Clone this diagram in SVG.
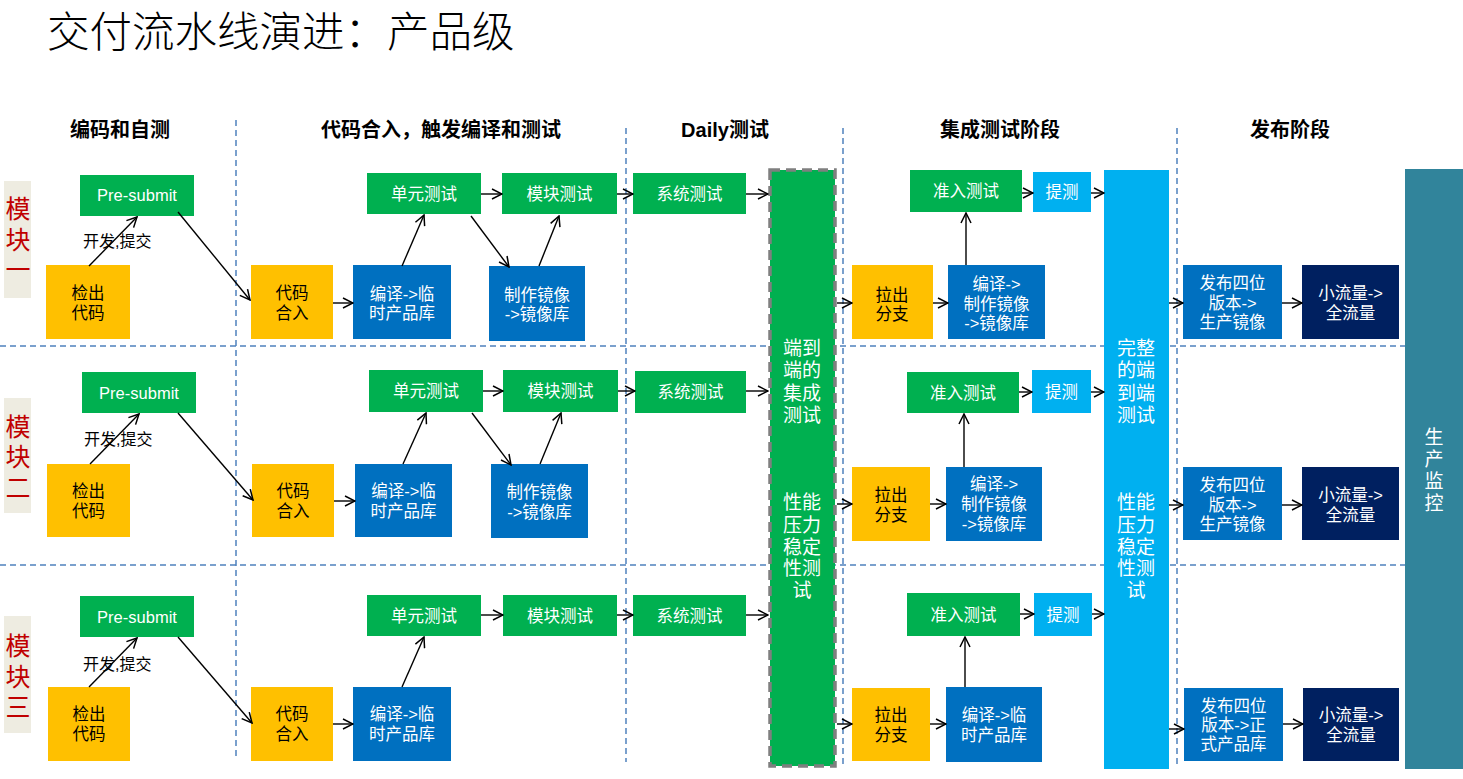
<svg xmlns="http://www.w3.org/2000/svg" width="1463" height="779" viewBox="0 0 1463 779">
<defs>
<marker id="ah" markerUnits="userSpaceOnUse" viewBox="0 0 12 12" markerWidth="12" markerHeight="12" refX="11" refY="6" orient="auto">
<path d="M1,1 L11,6 L1,11" fill="none" stroke="#000" stroke-width="1.5"/>
</marker>
<style>
text{font-family:"Liberation Sans","Noto Sans CJK SC",sans-serif}
.t{font-size:16.5px;text-anchor:middle}
.w{fill:#fff}
.k{fill:#000}
.h{font-size:20px;font-weight:700;text-anchor:middle;fill:#000}
.col{font-size:19px;text-anchor:middle;fill:#fff}
.side{font-size:25px;text-anchor:middle;fill:#C00000}
.g{fill:#00B050}
.o{fill:#FFC000}
.b{fill:#0070C0}
.lb{fill:#00B0F0}
.n{fill:#002060}
.grid{stroke:#4F81BD;stroke-width:1.5;stroke-dasharray:6,4;fill:none}
.c line{stroke:#000;stroke-width:1.4;marker-end:url(#ah)}
</style>
</defs>
<rect width="1463" height="779" fill="#fff"/>
<text x="47" y="47" font-size="42.5" font-weight="300" fill="#000" style="font-family:'Noto Sans CJK SC',sans-serif">交付流水线演进：产品级</text>

<g id="grid">
<line class="grid" x1="236" y1="120" x2="236" y2="760"/>
<line class="grid" x1="626" y1="128" x2="626" y2="762"/>
<line class="grid" x1="843" y1="128" x2="843" y2="766"/>
<line class="grid" x1="1177" y1="128" x2="1177" y2="766"/>
<line class="grid" x1="0" y1="346" x2="1463" y2="346"/>
<line class="grid" x1="0" y1="565" x2="1463" y2="565"/>
</g>

<g id="headers">
<text class="h" x="120" y="137">编码和自测</text>
<text class="h" x="441" y="137">代码合入，触发编译和测试</text>
<text class="h" x="725" y="137">Daily测试</text>
<text class="h" x="1000" y="137">集成测试阶段</text>
<text class="h" x="1290" y="137">发布阶段</text>
</g>

<g id="side1"><rect x="4" y="181" width="27" height="117" fill="#EEECE1"/><text class="side"><tspan x="18" y="218">模</tspan><tspan x="18" y="249">块</tspan><tspan x="18" y="279">一</tspan></text></g>
<g id="side2"><rect x="4" y="398" width="27" height="115" fill="#EEECE1"/><text class="side"><tspan x="18" y="436">模</tspan><tspan x="18" y="466">块</tspan><tspan x="18" y="497">二</tspan></text></g>
<g id="side3"><rect x="4" y="616" width="27" height="117" fill="#EEECE1"/><text class="side"><tspan x="18" y="655">模</tspan><tspan x="18" y="686">块</tspan><tspan x="18" y="716">三</tspan></text></g>

<g id="e2e">
<rect x="770" y="170" width="65" height="596" fill="#00B050" stroke="#7F7F7F" stroke-width="3.5" stroke-dasharray="10,6"/>
<text class="col"><tspan x="802" y="355">端到</tspan><tspan x="802" y="377">端的</tspan><tspan x="802" y="400">集成</tspan><tspan x="802" y="422">测试</tspan></text>
<text class="col"><tspan x="802" y="509">性能</tspan><tspan x="802" y="532">压力</tspan><tspan x="802" y="554">稳定</tspan><tspan x="802" y="575">性测</tspan><tspan x="802" y="597">试</tspan></text>
</g>
<g id="full-e2e">
<rect x="1104" y="170" width="65" height="599" fill="#00B0F0"/>
<text class="col"><tspan x="1136" y="355">完整</tspan><tspan x="1136" y="377">的端</tspan><tspan x="1136" y="400">到端</tspan><tspan x="1136" y="422">测试</tspan></text>
<text class="col"><tspan x="1136" y="509">性能</tspan><tspan x="1136" y="532">压力</tspan><tspan x="1136" y="554">稳定</tspan><tspan x="1136" y="575">性测</tspan><tspan x="1136" y="597">试</tspan></text>
</g>
<g id="monitor">
<rect x="1405" y="169" width="58" height="600" fill="#31849B"/>
<text class="col"><tspan x="1434" y="444">生</tspan><tspan x="1434" y="466">产</tspan><tspan x="1434" y="488">监</tspan><tspan x="1434" y="510">控</tspan></text>
</g>

<!-- Row 1 -->
<g id="r1-presubmit"><rect class="g" x="80" y="175" width="114" height="41"/><text class="t w" x="137" y="201">Pre-submit</text></g>
<g id="r1-checkout"><rect class="o" x="46" y="265" width="84" height="74"/><text class="t k"><tspan x="88" y="299">检出</tspan><tspan x="88" y="319">代码</tspan></text></g>
<g id="r1-merge"><rect class="o" x="251" y="265" width="82" height="74"/><text class="t k"><tspan x="292" y="299">代码</tspan><tspan x="292" y="319">合入</tspan></text></g>
<g id="r1-build"><rect class="b" x="353" y="265" width="98" height="74"/><text class="t w"><tspan x="402" y="300">编译-&gt;临</tspan><tspan x="402" y="319">时产品库</tspan></text></g>
<g id="r1-image"><rect class="b" x="489" y="266" width="96" height="75"/><text class="t w"><tspan x="537" y="301">制作镜像</tspan><tspan x="537" y="320">-&gt;镜像库</tspan></text></g>
<g id="r1-unit"><rect class="g" x="367" y="173" width="114" height="41"/><text class="t w" x="424" y="200">单元测试</text></g>
<g id="r1-module"><rect class="g" x="502" y="173" width="115" height="41"/><text class="t w" x="559.5" y="200">模块测试</text></g>
<g id="r1-system"><rect class="g" x="633" y="173" width="113" height="41"/><text class="t w" x="689.5" y="200">系统测试</text></g>
<g id="r1-branch"><rect class="o" x="852" y="265" width="81" height="74"/><text class="t k"><tspan x="892" y="301">拉出</tspan><tspan x="892" y="320">分支</tspan></text></g>
<g id="r1-build2"><rect class="b" x="948" y="265" width="97" height="74"/><text class="t w"><tspan x="996.5" y="290">编译-&gt;</tspan><tspan x="996.5" y="310">制作镜像</tspan><tspan x="996.5" y="329">-&gt;镜像库</tspan></text></g>
<g id="r1-admit"><rect class="g" x="910" y="170" width="112" height="42"/><text class="t w" x="966" y="197">准入测试</text></g>
<g id="r1-submit"><rect class="lb" x="1033" y="172" width="58" height="40"/><text class="t w" x="1062" y="198">提测</text></g>
<g id="r1-release"><rect class="b" x="1183" y="265" width="99" height="74"/><text class="t w"><tspan x="1232.5" y="289">发布四位</tspan><tspan x="1232.5" y="309">版本-&gt;</tspan><tspan x="1232.5" y="328">生产镜像</tspan></text></g>
<g id="r1-traffic"><rect class="n" x="1302" y="265" width="97" height="74"/><text class="t w"><tspan x="1350.5" y="299">小流量-&gt;</tspan><tspan x="1350.5" y="319">全流量</tspan></text></g>

<!-- Row 2 -->
<g id="r2-presubmit"><rect class="g" x="82" y="372" width="114" height="41"/><text class="t w" x="139" y="398.5">Pre-submit</text></g>
<g id="r2-checkout"><rect class="o" x="47" y="464" width="83" height="73"/><text class="t k"><tspan x="88.5" y="497">检出</tspan><tspan x="88.5" y="517">代码</tspan></text></g>
<g id="r2-merge"><rect class="o" x="252" y="464" width="82" height="73"/><text class="t k"><tspan x="293" y="497">代码</tspan><tspan x="293" y="517">合入</tspan></text></g>
<g id="r2-build"><rect class="b" x="355" y="464" width="97" height="73"/><text class="t w"><tspan x="403.5" y="497">编译-&gt;临</tspan><tspan x="403.5" y="517">时产品库</tspan></text></g>
<g id="r2-image"><rect class="b" x="491" y="464" width="97" height="74"/><text class="t w"><tspan x="539.5" y="498">制作镜像</tspan><tspan x="539.5" y="518">-&gt;镜像库</tspan></text></g>
<g id="r2-unit"><rect class="g" x="369" y="370" width="114" height="42"/><text class="t w" x="426" y="397">单元测试</text></g>
<g id="r2-module"><rect class="g" x="503" y="370" width="115" height="42"/><text class="t w" x="560.5" y="397">模块测试</text></g>
<g id="r2-system"><rect class="g" x="635" y="371" width="111" height="42"/><text class="t w" x="690.5" y="398">系统测试</text></g>
<g id="r2-branch"><rect class="o" x="852" y="467" width="78" height="74"/><text class="t k"><tspan x="891" y="501">拉出</tspan><tspan x="891" y="521">分支</tspan></text></g>
<g id="r2-build2"><rect class="b" x="946" y="467" width="96" height="74"/><text class="t w"><tspan x="994" y="490">编译-&gt;</tspan><tspan x="994" y="510">制作镜像</tspan><tspan x="994" y="530">-&gt;镜像库</tspan></text></g>
<g id="r2-admit"><rect class="g" x="907" y="372" width="112" height="41"/><text class="t w" x="963" y="398.5">准入测试</text></g>
<g id="r2-submit"><rect class="lb" x="1032" y="370" width="59" height="43"/><text class="t w" x="1061.5" y="397.5">提测</text></g>
<g id="r2-release"><rect class="b" x="1183" y="467" width="99" height="73"/><text class="t w"><tspan x="1232.5" y="491">发布四位</tspan><tspan x="1232.5" y="511">版本-&gt;</tspan><tspan x="1232.5" y="530">生产镜像</tspan></text></g>
<g id="r2-traffic"><rect class="n" x="1302" y="467" width="97" height="73"/><text class="t w"><tspan x="1350.5" y="501">小流量-&gt;</tspan><tspan x="1350.5" y="521">全流量</tspan></text></g>

<!-- Row 3 -->
<g id="r3-presubmit"><rect class="g" x="80" y="596" width="114" height="41"/><text class="t w" x="137" y="622.5">Pre-submit</text></g>
<g id="r3-checkout"><rect class="o" x="48" y="687" width="82" height="74"/><text class="t k"><tspan x="89" y="720">检出</tspan><tspan x="89" y="740">代码</tspan></text></g>
<g id="r3-merge"><rect class="o" x="251" y="687" width="82" height="74"/><text class="t k"><tspan x="292" y="720">代码</tspan><tspan x="292" y="740">合入</tspan></text></g>
<g id="r3-build"><rect class="b" x="353" y="687" width="98" height="74"/><text class="t w"><tspan x="402" y="720">编译-&gt;临</tspan><tspan x="402" y="740">时产品库</tspan></text></g>
<g id="r3-unit"><rect class="g" x="367" y="595" width="114" height="41"/><text class="t w" x="424" y="621.5">单元测试</text></g>
<g id="r3-module"><rect class="g" x="503" y="595" width="114" height="41"/><text class="t w" x="560" y="621.5">模块测试</text></g>
<g id="r3-system"><rect class="g" x="633" y="595" width="113" height="41"/><text class="t w" x="689.5" y="621.5">系统测试</text></g>
<g id="r3-branch"><rect class="o" x="852" y="688" width="78" height="73"/><text class="t k"><tspan x="891" y="721">拉出</tspan><tspan x="891" y="741">分支</tspan></text></g>
<g id="r3-build2"><rect class="b" x="946" y="687" width="96" height="75"/><text class="t w"><tspan x="994" y="721">编译-&gt;临</tspan><tspan x="994" y="741">时产品库</tspan></text></g>
<g id="r3-admit"><rect class="g" x="907" y="593" width="113" height="43"/><text class="t w" x="963.5" y="620.5">准入测试</text></g>
<g id="r3-submit"><rect class="lb" x="1034" y="593" width="58" height="43"/><text class="t w" x="1063" y="620.5">提测</text></g>
<g id="r3-release"><rect class="b" x="1184" y="688" width="99" height="73"/><text class="t w"><tspan x="1233.5" y="712">发布四位</tspan><tspan x="1233.5" y="731">版本-&gt;正</tspan><tspan x="1233.5" y="750">式产品库</tspan></text></g>
<g id="r3-traffic"><rect class="n" x="1303" y="688" width="96" height="73"/><text class="t w"><tspan x="1351" y="721">小流量-&gt;</tspan><tspan x="1351" y="741">全流量</tspan></text></g>

<g id="connectors" class="c">
<line x1="89" y1="266" x2="137" y2="217"/>
<line x1="178" y1="212" x2="250" y2="300"/>
<line x1="333" y1="303" x2="353" y2="303"/>
<line x1="402" y1="266" x2="424" y2="215"/>
<line x1="481" y1="194" x2="502" y2="194"/>
<line x1="471" y1="216" x2="509" y2="267"/>
<line x1="539" y1="266" x2="559" y2="216"/>
<line x1="617" y1="194" x2="633" y2="194"/>
<line x1="746" y1="194" x2="768" y2="194"/>
<line x1="837" y1="303" x2="852" y2="303"/>
<line x1="933" y1="303" x2="948" y2="303"/>
<line x1="966" y1="265" x2="966" y2="213"/>
<line x1="1022" y1="193" x2="1033" y2="193"/>
<line x1="1091" y1="193" x2="1104" y2="193"/>
<line x1="1169" y1="303" x2="1183" y2="303"/>
<line x1="1282" y1="303" x2="1302" y2="303"/>

<line x1="90" y1="464" x2="139" y2="414"/>
<line x1="178" y1="413" x2="253" y2="500"/>
<line x1="334" y1="501" x2="355" y2="501"/>
<line x1="403" y1="464" x2="426" y2="413"/>
<line x1="483" y1="391" x2="503" y2="391"/>
<line x1="472" y1="413" x2="511" y2="465"/>
<line x1="540" y1="464" x2="561" y2="413"/>
<line x1="618" y1="391" x2="635" y2="391"/>
<line x1="746" y1="391" x2="768" y2="391"/>
<line x1="837" y1="504" x2="852" y2="504"/>
<line x1="930" y1="504" x2="946" y2="504"/>
<line x1="964" y1="467" x2="964" y2="414"/>
<line x1="1019" y1="392" x2="1032" y2="392"/>
<line x1="1091" y1="392" x2="1104" y2="392"/>
<line x1="1169" y1="505" x2="1183" y2="505"/>
<line x1="1282" y1="505" x2="1302" y2="505"/>

<line x1="89" y1="687" x2="137" y2="638"/>
<line x1="178" y1="637" x2="252" y2="723"/>
<line x1="333" y1="724" x2="353" y2="724"/>
<line x1="402" y1="687" x2="424" y2="637"/>
<line x1="481" y1="615" x2="503" y2="615"/>
<line x1="617" y1="615" x2="633" y2="615"/>
<line x1="746" y1="615" x2="768" y2="615"/>
<line x1="837" y1="724" x2="852" y2="724"/>
<line x1="930" y1="724" x2="946" y2="724"/>
<line x1="965" y1="687" x2="965" y2="637"/>
<line x1="1020" y1="614" x2="1034" y2="614"/>
<line x1="1092" y1="614" x2="1104" y2="614"/>
<line x1="1169" y1="729" x2="1184" y2="729"/>
<line x1="1283" y1="724" x2="1303" y2="724"/>
</g>

<g id="labels">
<text x="83" y="247" font-size="16" fill="#000">开发,提交</text>
<text x="84" y="445" font-size="16" fill="#000">开发,提交</text>
<text x="83" y="670" font-size="16" fill="#000">开发,提交</text>
</g>
</svg>
